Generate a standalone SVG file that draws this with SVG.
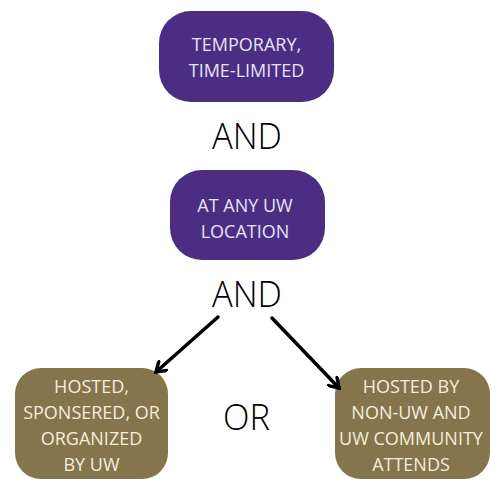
<svg xmlns="http://www.w3.org/2000/svg" width="500" height="497" viewBox="0 0 500 497">
<style>
.purple{fill:#4b2e83}
.gold{fill:#85754d}
.pt{fill:#e9e2f6;font-family:"Open Sans","Liberation Sans",sans-serif;font-size:18px;text-anchor:middle}
.gt{fill:#f4eedb;font-family:"Open Sans","Liberation Sans",sans-serif;font-size:18px;text-anchor:middle}
.big{fill:#000;font-family:"Open Sans","Liberation Sans",sans-serif;font-size:36px;font-weight:300;text-anchor:middle}
.conn{stroke:#000;stroke-width:3.5;fill:none;stroke-linecap:round}
</style>
<defs>
<marker id="arr" viewBox="0 0 14 14" refX="11" refY="7" markerWidth="14" markerHeight="14" markerUnits="userSpaceOnUse" orient="auto">
<path d="M2,1 L11,7 L2,13" fill="none" stroke="#000" stroke-width="3.5" stroke-linecap="round" stroke-linejoin="miter"/>
</marker>
</defs>
<rect width="500" height="497" fill="#fff"/>
<g id="node-temporary">
<rect class="purple" x="159" y="11" width="175" height="91" rx="32"/>
<text class="pt" x="246.5" y="51">TEMPORARY,</text>
<text class="pt" x="246.5" y="77">TIME-LIMITED</text>
</g>
<g id="label-and1">
<text class="big" x="247" y="149" textLength="70" lengthAdjust="spacingAndGlyphs">AND</text>
</g>
<g id="node-location">
<rect class="purple" x="170" y="170" width="155" height="90" rx="32"/>
<text class="pt" x="245" y="212">AT ANY UW</text>
<text class="pt" x="245" y="238">LOCATION</text>
</g>
<g id="label-and2">
<text class="big" x="247" y="307" textLength="70" lengthAdjust="spacingAndGlyphs">AND</text>
</g>
<g id="node-hosted-uw">
<rect class="gold" x="15" y="368" width="153" height="111" rx="26"/>
<text class="gt" x="91.5" y="393">HOSTED,</text>
<text class="gt" x="91.5" y="419">SPONSERED, OR</text>
<text class="gt" x="91.5" y="445">ORGANIZED</text>
<text class="gt" x="91.5" y="471">BY UW</text>
</g>
<g id="label-or">
<text class="big" x="246.5" y="430" textLength="47" lengthAdjust="spacingAndGlyphs">OR</text>
</g>
<g id="node-hosted-nonuw">
<rect class="gold" x="335" y="368" width="155" height="111" rx="26"/>
<text class="gt" x="411" y="393">HOSTED BY</text>
<text class="gt" x="411" y="419">NON-UW AND</text>
<text class="gt" x="411" y="445">UW COMMUNITY</text>
<text class="gt" x="411" y="471">ATTENDS</text>
</g>
<g id="connectors">
<line class="conn" x1="218" y1="317" x2="156" y2="372" marker-end="url(#arr)"/>
<line class="conn" x1="272" y1="318" x2="339" y2="388" marker-end="url(#arr)"/>
</g>
</svg>
